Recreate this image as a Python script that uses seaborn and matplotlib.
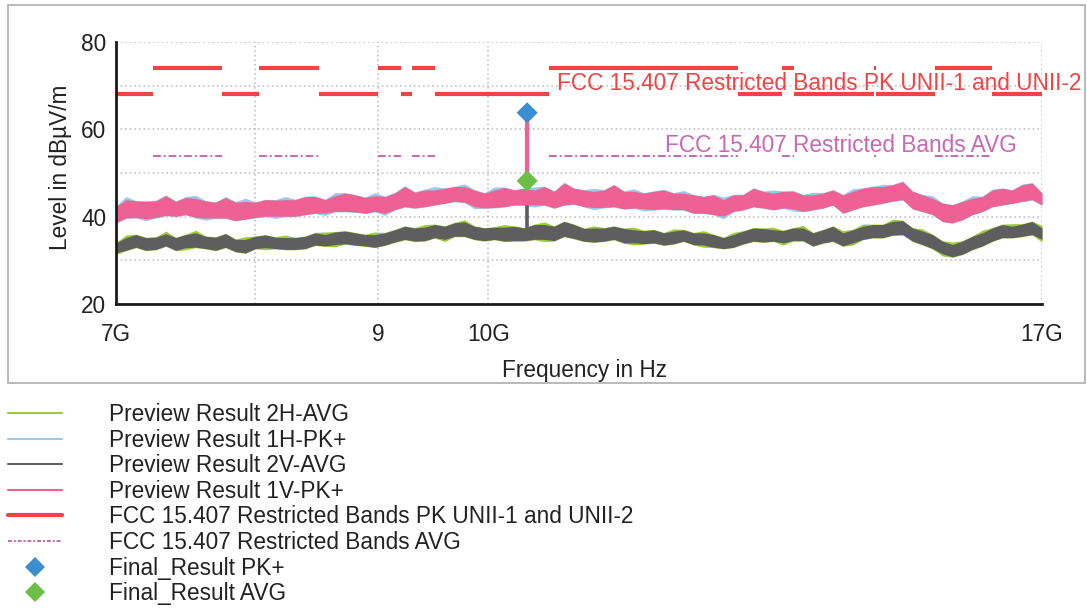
import numpy as np
import pandas as pd
import matplotlib
matplotlib.use("Agg")
import matplotlib.pyplot as plt
import seaborn as sns
from matplotlib.patches import Rectangle
from matplotlib.lines import Line2D
from matplotlib.ticker import FixedLocator, FixedFormatter, NullLocator

# ---------------------------------------------------------------- data
# Preview sweeps: per-sample min/max envelope (dBuV/m), 7 GHz .. 17 GHz
pk1v_hi = [42.3,43.9,43.6,43.5,43.6,44.8,43.5,44.4,44.2,43.6, 43.3,44.4,43.3,43.5,43.3,43.9,43.8,43.9,43.9,44.6,
           44.6,43.9,44.8,45.4,45.0,44.4,44.8,44.6,45.4,46.9, 45.6,46.1,46.1,46.5,46.9,46.9,46.1,45.4,46.1,46.7,
           46.1,46.5,46.1,46.9,45.8,47.7,46.5,46.1,45.8,46.1, 47.3,45.8,45.8,45.4,45.8,46.1,45.4,45.4,45.0,44.6,
           45.0,43.9,45.0,45.0,46.5,45.8,45.4,45.8,45.8,45.0, 45.0,45.4,46.1,45.0,45.8,46.5,46.9,46.9,47.3,48.0,
           45.8,45.0,44.2,43.1,42.7,43.5,44.2,44.6,46.1,46.5, 46.1,47.3,47.7,45.4]
pk1v_lo = [38.6,39.7,39.8,39.5,39.8,40.3,40.1,40.5,39.8,39.7, 39.7,39.7,39.1,39.5,39.8,40.1,40.1,40.1,40.1,40.5,
           40.8,40.8,41.2,41.2,41.1,40.8,41.2,40.8,41.6,42.3, 42.0,42.3,42.7,43.1,43.5,43.3,42.3,42.0,42.1,42.3,
           42.7,42.7,42.7,42.7,42.0,42.7,42.9,42.3,42.1,42.1, 42.3,41.8,42.0,41.8,41.6,41.8,41.6,41.6,40.8,40.8,
           40.5,40.1,41.2,41.6,42.3,42.0,41.6,42.0,41.8,41.2, 41.6,42.0,42.7,40.8,41.6,42.3,42.7,43.1,43.6,43.9,
           41.8,41.2,40.5,38.9,38.6,39.3,40.5,41.2,42.3,42.7, 43.1,43.5,43.9,42.7]
pk1h_hi = [42.5,44.6,43.7,43.6,43.8,45.0,43.6,44.6,44.9,43.7, 43.4,44.6,43.5,44.2,43.4,44.0,43.9,44.6,44.0,44.7,
           44.8,44.0,45.5,45.5,45.1,44.5,45.5,44.7,45.6,47.1, 45.7,46.3,46.9,46.6,47.0,47.5,46.2,45.5,46.8,46.8,
           46.2,46.6,46.8,47.0,45.9,47.9,46.6,46.2,46.5,46.2, 47.4,45.9,46.4,45.5,45.9,46.3,45.5,46.0,45.1,44.7,
           45.1,44.5,45.1,45.2,46.6,45.9,46.1,45.9,46.0,45.1, 45.6,45.5,46.2,45.1,46.4,46.6,47.0,47.4,47.4,48.2,
           45.9,45.1,44.8,43.2,42.8,43.6,44.8,44.7,46.3,46.6, 46.2,47.5,47.8,45.5]
pk1h_lo = [38.5,39.6,39.7,39.1,39.7,40.2,40.0,40.4,39.7,39.2, 39.6,39.6,39.0,39.4,39.7,40.0,39.6,40.0,40.0,40.4,
           40.7,40.3,41.1,41.1,41.0,40.7,41.1,40.3,41.5,42.2, 41.9,42.2,42.6,43.0,43.4,43.2,41.8,41.9,42.0,42.2,
           42.6,42.6,42.2,42.6,41.9,42.6,42.8,42.2,41.6,42.0, 42.2,41.7,41.9,41.3,41.5,41.7,41.5,41.5,40.7,40.7,
           40.4,39.5,41.1,41.5,42.2,41.9,41.5,41.9,41.3,41.1, 41.5,41.9,42.6,40.7,41.5,42.2,42.6,43.0,43.5,43.8,
           41.7,41.1,40.4,38.8,38.5,39.2,40.4,41.1,42.2,42.6, 43.0,43.4,43.8,42.6]
avg2v_hi = [34.0,35.2,35.9,35.2,35.3,36.1,35.2,35.9,36.3,35.5, 35.3,36.1,34.8,34.8,35.5,35.8,35.3,35.2,35.2,35.5,
            36.3,35.9,36.5,36.7,36.3,35.9,35.9,36.3,37.0,37.8, 37.4,37.6,38.2,37.8,38.6,38.8,37.8,37.4,37.6,37.6,
            37.8,37.4,38.2,38.2,37.8,38.9,38.2,37.3,37.4,37.4, 37.8,37.3,37.0,36.8,37.0,36.3,36.7,37.0,36.3,36.3,
            35.9,35.2,35.9,36.7,37.4,37.3,37.0,36.8,37.4,37.4, 36.3,37.0,37.8,36.3,37.0,37.8,38.2,38.2,38.9,39.1,
            37.4,36.7,35.9,34.4,33.6,34.4,35.5,36.3,37.4,38.2, 37.8,38.3,38.9,37.4]
avg2v_lo = [31.7,32.3,33.0,32.3,32.5,33.3,32.3,32.9,33.0,32.7, 32.3,33.0,32.0,31.7,32.7,32.9,32.7,32.5,32.5,32.7,
            33.5,33.3,33.6,33.8,33.5,33.3,33.0,33.5,34.2,34.8, 34.4,34.5,35.2,34.8,35.5,35.5,34.8,34.5,34.8,34.4,
            34.5,34.5,34.8,34.8,34.5,35.5,35.0,34.4,34.2,34.4, 34.8,34.0,34.0,33.8,34.0,33.5,33.8,34.4,33.6,33.5,
            33.0,32.7,33.0,33.8,34.4,34.2,34.4,34.0,34.5,34.5, 33.3,34.0,34.4,33.3,34.0,34.8,35.2,35.2,35.8,35.9,
            34.4,33.6,32.7,31.5,30.8,31.4,32.5,33.3,34.4,35.2, 35.2,35.5,35.9,34.8]
avg2h_hi = [34.1,35.8,36.0,35.3,35.4,36.7,35.3,36.0,36.9,35.6, 35.4,36.2,34.9,35.4,35.6,35.9,35.4,35.8,35.3,35.6,
            36.4,36.5,36.6,36.8,36.4,36.0,36.5,36.4,37.1,37.9, 37.5,38.2,38.3,37.9,38.7,39.3,37.9,37.5,37.7,38.2,
            37.9,37.5,38.3,38.8,37.9,39.0,38.3,37.4,37.9,37.5, 37.9,37.4,37.6,36.9,37.1,36.4,37.2,37.1,36.4,36.8,
            36.0,35.3,36.4,36.8,37.5,37.4,37.6,36.9,37.5,38.0, 36.4,37.1,37.9,36.8,37.1,38.3,38.3,38.3,39.4,39.2,
            37.5,37.2,36.0,34.5,34.2,34.5,35.6,36.9,37.5,38.3, 38.4,38.4,39.0,38.0]
avg2h_lo = [31.3,32.2,32.9,32.2,32.4,33.2,32.2,32.4,32.9,32.6, 32.2,32.9,31.9,31.6,32.6,32.4,32.6,32.4,32.4,32.6,
            33.4,33.2,33.1,33.7,33.4,33.2,32.9,33.4,34.1,34.7, 34.3,34.4,35.1,34.3,35.4,35.4,34.7,34.4,34.7,34.3,
            34.4,34.4,34.7,34.3,34.4,35.4,34.9,34.3,34.1,34.3, 34.7,33.9,33.5,33.7,33.9,33.4,33.7,34.3,33.5,33.0,
            32.9,32.6,32.9,33.7,34.3,34.1,34.3,33.5,34.4,34.4, 33.2,33.9,34.3,33.2,33.5,34.7,35.1,35.1,35.7,35.8,
            34.3,33.5,32.6,31.0,30.7,31.3,32.4,33.2,34.3,35.1, 35.1,35.4,35.8,34.2]

# FCC 15.205 restricted bands inside the scan range (GHz)
restricted_bands = [(7.25, 7.75), (8.025, 8.5), (9.0, 9.2), (9.3, 9.5),
                    (10.6, 12.7), (13.25, 13.4), (14.47, 14.5), (15.35, 16.2)]
pk_limit_restricted = 74.0
pk_limit_unii = 68.2
avg_limit_restricted = 54.0
scan_start_ghz, scan_stop_ghz = 7.0, 17.0

# final measurement
final_freq_ghz = 10.38
final_pk = 63.8
final_avg = 48.2
final_pk_preview = 44.6
final_avg_preview = 36.2

x_ticks_ghz = [7, 8, 9, 10, 17]
x_tick_labels = ["7G", "", "9", "10G", "17G"]
y_ticks = [20, 30, 40, 50, 60, 70, 80]
y_tick_labels = ["20", "", "40", "", "60", "", "80"]

label_2h_avg = "Preview Result 2H-AVG"
label_1h_pk = "Preview Result 1H-PK+"
label_2v_avg = "Preview Result 2V-AVG"
label_1v_pk = "Preview Result 1V-PK+"
label_pk_lim = "FCC 15.407 Restricted Bands PK UNII-1 and UNII-2"
label_avg_lim = "FCC 15.407 Restricted Bands AVG"
label_final_pk = "Final_Result PK+"
label_final_avg = "Final_Result AVG"

# ---------------------------------------------------------------- style
C_GREEN = "#9dcb3c"
C_BLUE = "#99c9ec"
C_GRAY = "#5e5e5e"
C_PINK = "#ef6193"
C_RED = "#ef4444"
C_MAG = "#c767b6"
C_FPK = "#3b8fd1"
C_FAVG = "#6bbf45"
C_TXT = "#222222"
FS = 16.3

sns.set_theme(style="white")
plt.rcParams["font.family"] = ["Liberation Sans", "DejaVu Sans"]
plt.rcParams["text.color"] = C_TXT

fig = plt.figure(figsize=(10.87, 6.08), dpi=100)
ax = fig.add_axes([116 / 1087, 1 - 304 / 608, 926 / 1087, 262 / 608])
ax.set_xscale("log")

# ---------------------------------------------------------------- preview sweeps
n_pts = len(pk1v_hi)
sweep_freq = np.geomspace(scan_start_ghz, scan_stop_ghz, n_pts) * 1e9


def envelope_frame(lo, hi):
    return pd.DataFrame({"freq": np.concatenate([sweep_freq, sweep_freq]),
                         "level": np.concatenate([lo, hi])})


sweeps = [
    (avg2h_lo, avg2h_hi, C_GREEN, 2.0),
    (pk1h_lo, pk1h_hi, C_BLUE, 2.1),
    (avg2v_lo, avg2v_hi, C_GRAY, 2.2),
    (pk1v_lo, pk1v_hi, C_PINK, 2.3),
]
for lo, hi, col, z in sweeps:
    sns.lineplot(data=envelope_frame(lo, hi), x="freq", y="level",
                 estimator="mean", errorbar=("pi", 100), color=col,
                 linewidth=1.0, zorder=z + 0.01, legend=False, ax=ax,
                 err_kws={"alpha": 1.0, "linewidth": 0, "zorder": z})

# ---------------------------------------------------------------- limit lines
edges = [scan_start_ghz]
for a, b in restricted_bands:
    edges += [a, b]
edges.append(scan_stop_ghz)

pk_rows, avg_rows = [], []
for i in range(len(edges) - 1):
    restricted = (i % 2 == 1)
    lvl = pk_limit_restricted if restricted else pk_limit_unii
    pk_rows += [(i, edges[i] * 1e9, lvl), (i, edges[i + 1] * 1e9, lvl)]
    if restricted:
        avg_rows += [(i, edges[i] * 1e9, avg_limit_restricted),
                     (i, edges[i + 1] * 1e9, avg_limit_restricted)]
pk_df = pd.DataFrame(pk_rows, columns=["seg", "freq", "level"])
avg_df = pd.DataFrame(avg_rows, columns=["seg", "freq", "level"])

sns.lineplot(data=pk_df, x="freq", y="level", units="seg", estimator=None,
             color=C_RED, linewidth=3.0, solid_capstyle="butt", zorder=3,
             legend=False, ax=ax)
sns.lineplot(data=avg_df, x="freq", y="level", units="seg", estimator=None,
             color=C_MAG, linewidth=1.4, linestyle=(0, (4, 1.5, 1, 1.5)),
             zorder=3, legend=False, ax=ax)

# ---------------------------------------------------------------- final result
ff = final_freq_ghz * 1e9
ax.vlines(ff, final_avg_preview, final_avg, color=C_GRAY, lw=2.6, zorder=2.15)
ax.vlines(ff, final_pk_preview, final_pk, color=C_PINK, lw=3.0, zorder=4)
sns.scatterplot(x=[ff], y=[final_pk], marker="D", s=115, color=C_FPK,
                edgecolor="none", zorder=5, legend=False, ax=ax)
sns.scatterplot(x=[ff], y=[final_avg], marker="D", s=115, color=C_FAVG,
                edgecolor="none", zorder=5, legend=False, ax=ax)

# ---------------------------------------------------------------- limit captions
ax.text(10.68e9, 70.6, label_pk_lim, color=C_RED, fontsize=FS,
        ha="left", va="center", clip_on=False, zorder=6)
ax.text(11.85e9, 56.2, label_avg_lim, color=C_MAG, fontsize=FS,
        ha="left", va="center", clip_on=False, zorder=6)

# ---------------------------------------------------------------- axes
ax.set_xlim(scan_start_ghz * 1e9, scan_stop_ghz * 1e9)
ax.set_ylim(20, 80)
ax.xaxis.set_major_locator(FixedLocator([v * 1e9 for v in x_ticks_ghz]))
ax.xaxis.set_major_formatter(FixedFormatter(x_tick_labels))
ax.xaxis.set_minor_locator(NullLocator())
ax.yaxis.set_major_locator(FixedLocator(y_ticks))
ax.yaxis.set_major_formatter(FixedFormatter(y_tick_labels))
ax.yaxis.set_minor_locator(NullLocator())

ax.grid(True, which="major", color="#b9b9b9", linestyle=(0, (1, 2)), lw=1.1)
ax.set_axisbelow(True)
for s in ("top", "right"):
    ax.spines[s].set_visible(False)
for s in ("left", "bottom"):
    ax.spines[s].set_color("#1a1a1a")
    ax.spines[s].set_linewidth(2.0)
    ax.spines[s].set_zorder(6)
ax.tick_params(axis="both", direction="inout", length=12, width=1.8,
               color="#1a1a1a", labelsize=FS, labelcolor=C_TXT)
ax.tick_params(axis="y", pad=1)
ax.tick_params(axis="x", pad=8)

ax.set_xlabel("Frequency in Hz", fontsize=FS, color=C_TXT)
ax.set_ylabel("Level in dBµV/m", fontsize=FS, color=C_TXT)
ax.xaxis.set_label_coords(0.506, -0.21)
ax.yaxis.set_label_coords(-0.047, 0.52)

# panel frame
fig.patches.append(Rectangle((8 / 1087, 1 - 383 / 608), 1077 / 1087, 378 / 608,
                             transform=fig.transFigure, fill=False,
                             edgecolor="#b4b4b4", lw=1.3, zorder=0))

# ---------------------------------------------------------------- legend
handles = [
    Line2D([], [], color=C_GREEN, lw=1.5),
    Line2D([], [], color=C_BLUE, lw=1.5),
    Line2D([], [], color=C_GRAY, lw=1.5),
    Line2D([], [], color=C_PINK, lw=1.5),
    Line2D([], [], color=C_RED, lw=3.0),
    Line2D([], [], color=C_MAG, lw=1.4, ls=(0, (2, 1, 1, 1))),
    Line2D([], [], color=C_FPK, marker="D", ls="none", markersize=10.5, markeredgewidth=0),
    Line2D([], [], color=C_FAVG, marker="D", ls="none", markersize=10.5, markeredgewidth=0),
]
labels = [label_2h_avg, label_1h_pk, label_2v_avg, label_1v_pk,
          label_pk_lim, label_avg_lim, label_final_pk, label_final_avg]
fig.legend(handles, labels, loc="upper left",
           bbox_to_anchor=(8 / 1087, 1 - 403 / 608), frameon=False,
           fontsize=FS, borderpad=0, borderaxespad=0, handlelength=2.4,
           handletextpad=2.05, labelspacing=0.115)

fig.savefig("out.png", dpi=100)
